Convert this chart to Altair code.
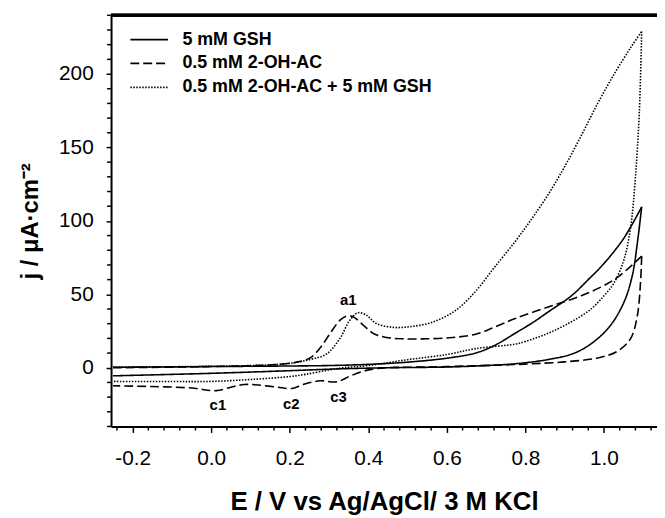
import altair as alt
import pandas as pd

series_names = ["5 mM GSH", "0.5 mM 2-OH-AC", "0.5 mM 2-OH-AC + 5 mM GSH"]

# 5 mM GSH (solid)
gsh_fwd_E = [-0.25, -0.1, 0.0, 0.1, 0.2, 0.3, 0.4, 0.5, 0.6, 0.673, 0.72, 0.774, 0.82, 0.858, 0.917, 0.96, 1.0, 1.05, 1.096]
gsh_fwd_j = [0.3, 0.6, 0.8, 1.0, 1.2, 1.5, 2.3, 3.8, 6.5, 10, 15, 23.5, 31, 38, 49, 60, 71, 88, 109.5]
gsh_rev_E = [1.096, 1.085, 1.072, 1.051, 1.017, 0.975, 0.925, 0.858, 0.774, 0.7, 0.6, 0.45, 0.32, 0.2, 0.0, -0.25]
gsh_rev_j = [109.5, 85, 62.6, 44.7, 29, 17.9, 10, 5.6, 2.7, 1.5, 0.5, 0.0, -0.8, -2.0, -3.8, -5.5]

# 0.5 mM 2-OH-AC (dashed)
oh_fwd_E = [-0.25, -0.1, 0.0, 0.1, 0.168, 0.22, 0.252, 0.277, 0.303, 0.328, 0.345, 0.362, 0.387, 0.412, 0.446, 0.488, 0.547, 0.614, 0.673, 0.72, 0.774, 0.858, 0.942, 1.026, 1.096]
oh_fwd_j = [0.0, 0.4, 0.8, 1.4, 2.2, 4.0, 6.7, 13.4, 23.5, 32.4, 35.1, 34.6, 29, 23.5, 20.6, 19.7, 19.7, 20.6, 22.8, 27.5, 33.5, 41.4, 49, 60, 76]
oh_rev_E = [1.096, 1.093, 1.085, 1.068, 1.034, 0.984, 0.9, 0.815, 0.774, 0.6, 0.5, 0.446, 0.395, 0.354, 0.32, 0.278, 0.236, 0.206, 0.168, 0.12, 0.084, 0.05, 0.013, -0.05, -0.15, -0.25]
oh_rev_j = [76, 58, 35.7, 20, 11.2, 6.7, 4, 2.7, 2.2, 0.8, 0.3, 0.0, -1.8, -5.6, -9.6, -8.9, -11.2, -14.1, -13.2, -11.8, -11.4, -13.3, -15.6, -13.8, -12.8, -12.3]

# 0.5 mM 2-OH-AC + 5 mM GSH (dotted)
mix_fwd_E = [-0.25, -0.1, 0.0, 0.1, 0.15, 0.2, 0.252, 0.294, 0.328, 0.353, 0.374, 0.395, 0.42, 0.463, 0.504, 0.563, 0.622, 0.673, 0.72, 0.774, 0.815, 0.858, 0.9, 0.942, 0.984, 1.026, 1.068, 1.096]
mix_fwd_j = [0.5, 0.7, 1.0, 1.5, 2.0, 3.0, 5.6, 9.4, 20.1, 32.4, 37.5, 35.8, 30.2, 27.5, 27.9, 31, 39, 52, 68, 86, 101, 118, 137, 158, 180, 200, 218, 229]
mix_rev_E = [1.096, 1.09, 1.08, 1.068, 1.051, 1.026, 1.0, 0.967, 0.917, 0.858, 0.8, 0.774, 0.673, 0.6, 0.5, 0.4, 0.336, 0.3, 0.24, 0.2, 0.1, 0.0, -0.1, -0.25]
mix_rev_j = [229, 174, 129.6, 96, 73.7, 58, 49, 40, 31.3, 23.5, 17.9, 16.1, 13, 9, 5.5, 1.5, 0.0, -1.5, -4.5, -6, -8, -9.3, -9.4, -9.3]

# peak annotations
ann_text = ["a1", "c1", "c2", "c3"]
ann_E = [0.349, 0.017, 0.204, 0.324]
ann_j = [45.8, -25.7, -25.0, -20.1]

# axis ticks
x_major = [-0.2, 0.0, 0.2, 0.4, 0.6, 0.8, 1.0]
x_minor = [-0.24, -0.16, -0.12, -0.08, -0.04, 0.04, 0.08, 0.12, 0.16, 0.24, 0.28, 0.32, 0.36,
           0.44, 0.48, 0.52, 0.56, 0.64, 0.68, 0.72, 0.76, 0.84, 0.88, 0.92, 0.96, 1.04, 1.08, 1.12]
y_major = [0, 50, 100, 150, 200]
y_minor = [-40, -30, -20, -10, 10, 20, 30, 40, 60, 70, 80, 90, 110, 120, 130, 140,
           160, 170, 180, 190, 210, 220, 230, 240]

rows = []
def add(series, branch, E, J):
    for i, (e, j) in enumerate(zip(E, J)):
        rows.append({"series": series, "branch": series + "|" + branch, "E": e, "j": j, "idx": i})

add(series_names[0], "f", gsh_fwd_E, gsh_fwd_j)
add(series_names[0], "r", gsh_rev_E, gsh_rev_j)
add(series_names[1], "f", oh_fwd_E, oh_fwd_j)
add(series_names[1], "r", oh_rev_E, oh_rev_j)
add(series_names[2], "f", mix_fwd_E, mix_fwd_j)
add(series_names[2], "r", mix_rev_E, mix_rev_j)
df = pd.DataFrame(rows)
ann = pd.DataFrame({"t": ann_text, "E": ann_E, "j": ann_j})
xmin_df = pd.DataFrame({"E": x_minor})
ymin_df = pd.DataFrame({"j": y_minor})

FONT = "Liberation Sans"
W, H = 551, 415

xscale = alt.Scale(domain=[-0.255, 1.135], nice=False, zero=False)
yscale = alt.Scale(domain=[-40, 240], nice=False, zero=False)

xaxis = alt.Axis(
    values=x_major, grid=False, labelOverlap=False, labelFlush=False,
    labelExpr="replace(format(datum.value, '.1f'), '\u2212', '-')",
    tickSize=6, tickColor="black", tickWidth=1.5, domainColor="black", domainWidth=2,
    labelFont=FONT, labelFontSize=21, labelColor="black", labelPadding=15,
    title="E / V vs Ag/AgCl/ 3 M KCl", titleFont=FONT, titleFontSize=26,
    titleFontWeight="bold", titleColor="black", titlePadding=21,
)
yaxis = alt.Axis(
    values=y_major, grid=False, labelOverlap=False, labelFlush=False,
    tickSize=5, tickColor="black", tickWidth=1.5, domainColor="black", domainWidth=2,
    labelFont=FONT, labelFontSize=21, labelColor="black", labelPadding=13,
    title="j / \u03bcA\u00b7cm\u207b\u00b2", titleFont=FONT, titleFontSize=24,
    titleFontWeight="bold", titleColor="black", titlePadding=16,
)

lines = alt.Chart(df).mark_line(color="black", strokeWidth=1.6, interpolate="catmull-rom").encode(
    x=alt.X("E:Q", scale=xscale, axis=xaxis),
    y=alt.Y("j:Q", scale=yscale, axis=yaxis),
    detail="branch:N",
    order="idx:Q",
    strokeDash=alt.StrokeDash(
        "series:N",
        scale=alt.Scale(domain=series_names, range=[[1, 0], [9, 4], [1.5, 1.5]]),
        legend=alt.Legend(
            title=None, orient="none", legendX=28, legendY=14,
            symbolType="M-2,0H2", symbolSize=361, symbolStrokeWidth=1.8,
            symbolStrokeColor="black", symbolFillColor="transparent",
            labelFont=FONT, labelFontSize=18,
            labelFontWeight="bold", labelColor="black", labelOffset=23,
            labelLimit=0, rowPadding=4.1, padding=0,
        ),
    ),
)

labels = alt.Chart(ann).mark_text(font=FONT, fontSize=15, fontWeight="bold", color="black",
                                  align="center", baseline="middle").encode(
    x=alt.X("E:Q", scale=xscale, axis=xaxis), y=alt.Y("j:Q", scale=yscale, axis=yaxis), text="t:N")

xminor = alt.Chart(xmin_df).mark_rule(color="black", strokeWidth=1.5).encode(
    x=alt.X("E:Q", scale=xscale, axis=xaxis), y=alt.value(H), y2=alt.value(H + 4))
yminor = alt.Chart(ymin_df).mark_rule(color="black", strokeWidth=1.5).encode(
    y=alt.Y("j:Q", scale=yscale, axis=yaxis), x=alt.value(-4), x2=alt.value(0))

topframe = alt.Chart(ann).mark_rule(color="black", strokeWidth=3).encode(
    x=alt.value(0), x2=alt.value(W), y=alt.value(0))

chart = alt.layer(lines, labels, xminor, yminor, topframe).properties(
    width=W, height=H,
    autosize=alt.AutoSizeParams(type="none"),
    padding={"left": 104, "top": 5, "right": 0, "bottom": 90},
).configure_view(stroke=None)

chart.save("out.html", embed_options={"renderer": "svg", "actions": False})
